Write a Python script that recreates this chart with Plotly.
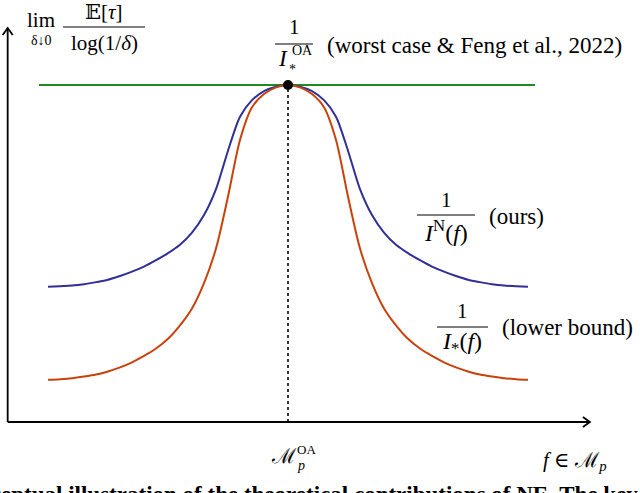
import plotly.graph_objects as go

# ---- data (abstract units: peak at x=0, worst-case level = 1) ----
x_vals = [-1.0, -0.95, -0.9, -0.85, -0.8, -0.75, -0.7, -0.65, -0.6, -0.55, -0.5, -0.45, -0.4, -0.35,
          -0.3, -0.25, -0.2, -0.15, -0.1, -0.05, 0.0,
          0.05, 0.1, 0.15, 0.2, 0.25, 0.3, 0.35, 0.4, 0.45, 0.5, 0.55, 0.6, 0.65, 0.7, 0.75,
          0.8, 0.85, 0.9, 0.95, 1.0]
ours_vals = [0.401, 0.403, 0.405, 0.409, 0.415, 0.422, 0.433, 0.446, 0.461, 0.480, 0.501, 0.526, 0.562, 0.614,
             0.691, 0.805, 0.906, 0.955, 0.982, 0.995, 1.0,
             0.995, 0.982, 0.955, 0.906, 0.805, 0.691, 0.614, 0.562, 0.526, 0.501, 0.480, 0.461, 0.446, 0.433, 0.422,
             0.415, 0.409, 0.405, 0.403, 0.401]
lower_vals = [0.125, 0.127, 0.130, 0.135, 0.141, 0.150, 0.162, 0.177, 0.196, 0.218, 0.247, 0.287, 0.337, 0.412,
              0.515, 0.669, 0.837, 0.934, 0.973, 0.993, 1.0,
              0.993, 0.973, 0.934, 0.837, 0.669, 0.515, 0.412, 0.337, 0.287, 0.247, 0.218, 0.196, 0.177, 0.162, 0.150,
              0.141, 0.135, 0.130, 0.127, 0.125]
worst_x = [-1.0375, 1.029]
worst_vals = [1.0, 1.0]
peak_x = [0.0]
peak_y = [1.0]

W, H = 640, 493
X0, X1 = -1.2, 1.4667
Y0, Y1 = -0.2107, 1.2522

def px(x):  # pixel -> paper x
    return x / W

def py(y):  # pixel -> paper y
    return 1 - y / H

BLUE = "#2f2f96"
ORANGE = "#c8420c"
GREEN = "#1f8a1f"
SERIF = "'Liberation Serif', 'DejaVu Serif', 'Noto Serif', serif"

fig = go.Figure()
fig.add_trace(go.Scatter(x=worst_x, y=worst_vals, mode="lines",
                         line=dict(color=GREEN, width=2), hoverinfo="skip"))
fig.add_trace(go.Scatter(x=x_vals, y=ours_vals, mode="lines", line_shape="spline",
                         line=dict(color=BLUE, width=2, smoothing=0.8), hoverinfo="skip"))
fig.add_trace(go.Scatter(x=x_vals, y=lower_vals, mode="lines", line_shape="spline",
                         line=dict(color=ORANGE, width=2, smoothing=0.8), hoverinfo="skip"))
fig.add_trace(go.Scatter(x=[peak_x[0], peak_x[0]], y=[0, peak_y[0]], mode="lines",
                         line=dict(color="black", width=1.6, dash="dot"), hoverinfo="skip"))
fig.add_trace(go.Scatter(x=peak_x, y=peak_y, mode="markers",
                         marker=dict(color="black", size=10), hoverinfo="skip"))

# axes with arrows (data units)
ox, oy = -1.168, 0.0
xt, yt = 1.258, 1.169
ax_dx, ax_dy = 7 / 240, 5 / 337
ay_dx, ay_dy = 5 / 240, 7 / 337
shapes = [
    dict(type="line", x0=ox, y0=oy, x1=xt, y1=oy, line=dict(color="black", width=1.8)),
    dict(type="line", x0=ox, y0=oy, x1=ox, y1=yt, line=dict(color="black", width=1.8)),
    dict(type="path", path=f"M {xt-ax_dx},{oy+ax_dy} L {xt},{oy} L {xt-ax_dx},{oy-ax_dy}",
         line=dict(color="black", width=1.8)),
    dict(type="path", path=f"M {ox-ay_dx},{yt-ay_dy} L {ox},{yt} L {ox+ay_dx},{yt-ay_dy}",
         line=dict(color="black", width=1.8)),
]
# fraction bars (paper coords from pixels)
def bar(x0, x1, y):
    return dict(type="line", xref="paper", yref="paper", x0=px(x0), x1=px(x1), y0=py(y), y1=py(y),
                line=dict(color="black", width=1))
shapes += [bar(63, 145, 27), bar(275, 313, 44), bar(417, 475, 215), bar(437, 488, 327)]

annotations = []
def txt(t, x, y, size=23, xanchor="center", yanchor="middle", family=SERIF, color="black"):
    annotations.append(dict(text=t, x=px(x), y=py(y), xref="paper", yref="paper",
                            showarrow=False, xanchor=xanchor, yanchor=yanchor,
                            font=dict(family=family, size=size, color=color)))

# y-axis label
txt("lim", 41, 20, size=21)
txt("δ↓0", 41, 40, size=14)
txt("𝔼[<i>τ</i>]", 104, 12, size=21)
txt("log(1/<i>δ</i>)", 104, 43, size=21)

# worst case label
txt("1", 294, 27, size=21)
txt("<i>I</i>", 283, 59, size=23)
txt("OA", 290, 51, size=14, xanchor="left")
txt("*", 287, 69, size=14, xanchor="left")
txt("(worst case &amp; Feng et al., 2022)", 325, 45, size=23, xanchor="left")

# ours label
txt("1", 446, 200, size=21)
txt("<i>I</i><sup>N</sup>(<i>f</i>)", 446, 231, size=24)
txt("(ours)", 487, 217, size=23, xanchor="left")

# lower bound label
txt("1", 462, 311, size=21)
txt("<i>I</i><sub>*</sub>(<i>f</i>)", 462, 343, size=24)
txt("(lower bound)", 500, 327, size=23, xanchor="left")

# x-axis labels
txt("<i>ℳ</i>", 284, 456, size=21)
txt("OA", 295, 449, size=13, xanchor="left")
txt("<i>p</i>", 295, 465, size=14, xanchor="left")
txt("<i>f</i> ∈ <i>ℳ</i><sub><i>p</i></sub>", 575, 461, size=21)

# cut-off caption
txt("<b>Conceptual illustration of the theoretical contributions of NE. The key</b>", -52, 494,
    size=23, xanchor="left", yanchor="middle")

fig.update_layout(
    width=W, height=H, autosize=False,
    margin=dict(l=0, r=0, t=0, b=0),
    paper_bgcolor="white", plot_bgcolor="white",
    showlegend=False,
    xaxis=dict(range=[X0, X1], visible=False, fixedrange=True),
    yaxis=dict(range=[Y0, Y1], visible=False, fixedrange=True),
    shapes=shapes, annotations=annotations,
)
fig.write_html("out.html", config={"displayModeBar": False},
               post_script="document.body.style.margin='0';document.body.style.overflow='hidden';")
